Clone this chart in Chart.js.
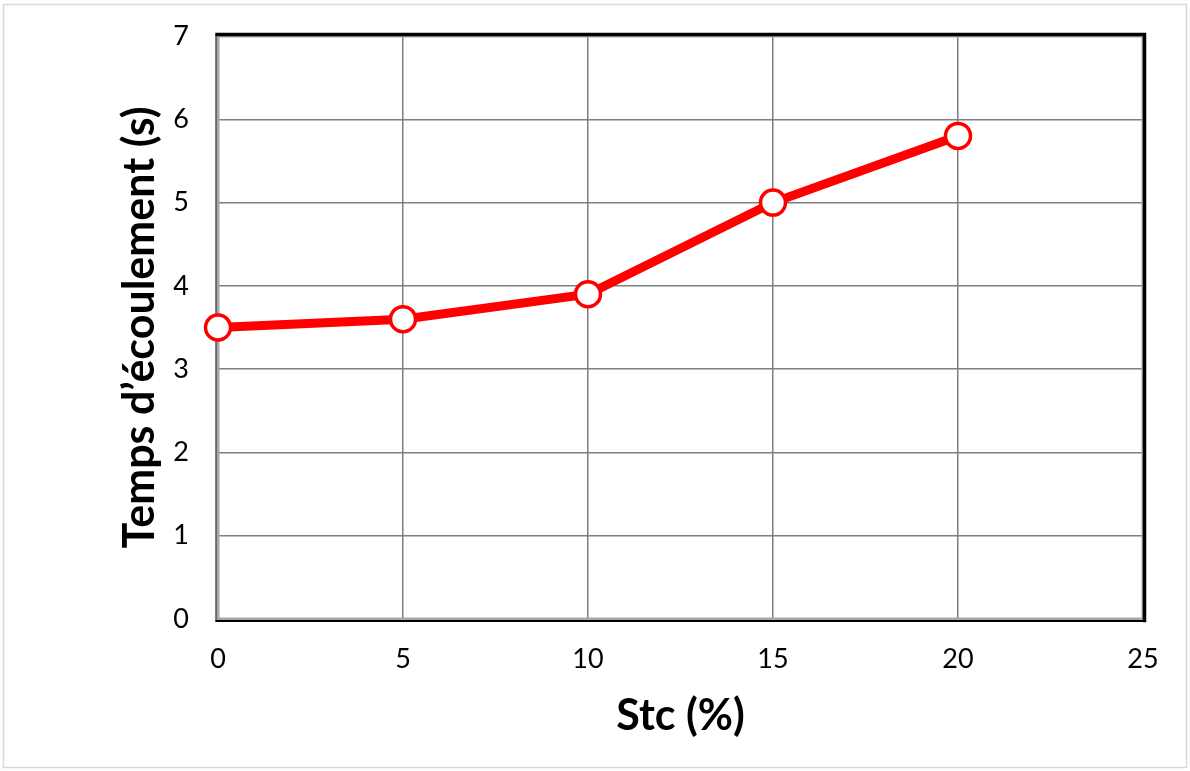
<!DOCTYPE html>
<html>
<head>
<meta charset="utf-8">
<script src="https://cdn.jsdelivr.net/npm/chart.js@4"></script>
<style>
  html, body { margin: 0; padding: 0; background: #fff; }
  #wrap { width: 1190px; height: 771px; position: relative; }
</style>
</head>
<body>
<div id="wrap"><canvas id="c" width="1190" height="771"></canvas></div>
<script>
// Stc content (%) and flow time (s)
const stc = [0, 5, 10, 15, 20];
const flowTime = [3.5, 3.6, 3.9, 5.0, 5.8];
const xTicks = [0, 5, 10, 15, 20, 25];
const yTicks = [0, 1, 2, 3, 4, 5, 6, 7];

const FONT = 'Lato, "Open Sans", sans-serif';

// Plot frame: black top/right edges, grey-lined left/bottom edges, plus the outer page border
const framePlugin = {
  id: 'frame',
  beforeDraw(chart) {
    const ctx = chart.ctx;
    ctx.save();
    ctx.fillStyle = '#fff';
    ctx.fillRect(0, 0, chart.width, chart.height);
    ctx.strokeStyle = '#d9d9d9';
    ctx.lineWidth = 1.5;
    ctx.strokeRect(3.5, 4.5, chart.width - 7, chart.height - 8);
    ctx.restore();
  },
  beforeDatasetsDraw(chart) {
    const {ctx, chartArea: a} = chart;
    ctx.save();
    ctx.lineCap = 'square';
    // grey inner frame
    ctx.strokeStyle = '#a6a6a6';
    ctx.lineWidth = 3;
    ctx.strokeRect(a.left, a.top, a.right - a.left, a.bottom - a.top);
    // black outer strokes
    ctx.strokeStyle = '#000';
    ctx.lineWidth = 3.5;
    ctx.beginPath();
    ctx.moveTo(a.left - 1, a.top - 1.5);
    ctx.lineTo(a.right + 1.5, a.top - 1.5);
    ctx.lineTo(a.right + 1.5, a.bottom + 1.5);
    ctx.stroke();
    ctx.lineWidth = 2;
    ctx.beginPath();
    ctx.moveTo(a.right, a.bottom + 2);
    ctx.lineTo(a.left - 1.5, a.bottom + 2);
    ctx.stroke();
    ctx.lineWidth = 1;
    ctx.beginPath();
    ctx.moveTo(a.left - 2, a.bottom + 2);
    ctx.lineTo(a.left - 2, a.top);
    ctx.stroke();
    ctx.restore();
  }
};

new Chart(document.getElementById('c'), {
  type: 'line',
  data: {
    datasets: [{
      data: stc.map((x, i) => ({x: x, y: flowTime[i]})),
      borderColor: '#ff0000',
      borderWidth: 9,
      backgroundColor: '#ffffff',
      pointBackgroundColor: '#ffffff',
      pointBorderColor: '#ff0000',
      pointBorderWidth: 3.5,
      pointRadius: 12.5,
      tension: 0,
      clip: false
    }]
  },
  options: {
    responsive: false,
    animation: false,
    events: [],
    layout: { padding: { left: 0, top: 36, right: 47, bottom: 0 } },
    plugins: { legend: { display: false }, tooltip: { enabled: false } },
    scales: {
      x: {
        type: 'linear',
        min: 0, max: 25,
        afterBuildTicks(s) { s.ticks = xTicks.map(v => ({value: v})); },
        afterFit(s) { s.height = 152; s.paddingLeft = 0; s.paddingRight = 0; },
        grid: { color: '#7f7f7f', lineWidth: 1.5, drawTicks: false },
        border: { display: false },
        ticks: { color: '#000', font: { family: FONT, size: 27 }, padding: 24, maxRotation: 0 },
        title: {
          display: true, text: 'Stc (%)', color: '#000',
          font: { family: FONT, size: 43, weight: 'bold' },
          padding: { top: 0, bottom: 29 }
        }
      },
      y: {
        type: 'linear',
        min: 0, max: 7,
        afterBuildTicks(s) { s.ticks = yTicks.map(v => ({value: v})); },
        afterFit(s) { s.width = 218; s.paddingTop = 0; s.paddingBottom = 0; },
        grid: { color: '#7f7f7f', lineWidth: 1.5, drawTicks: false },
        border: { display: false },
        ticks: { color: '#000', font: { family: FONT, size: 27 }, padding: 29 },
        title: {
          display: true, text: 'Temps d\u2019écoulement (s)', color: '#000',
          font: { family: FONT, size: 43, weight: 'bold' },
          padding: { top: 114, bottom: 0 }
        }
      }
    }
  },
  plugins: [framePlugin]
});
</script>
</body>
</html>
